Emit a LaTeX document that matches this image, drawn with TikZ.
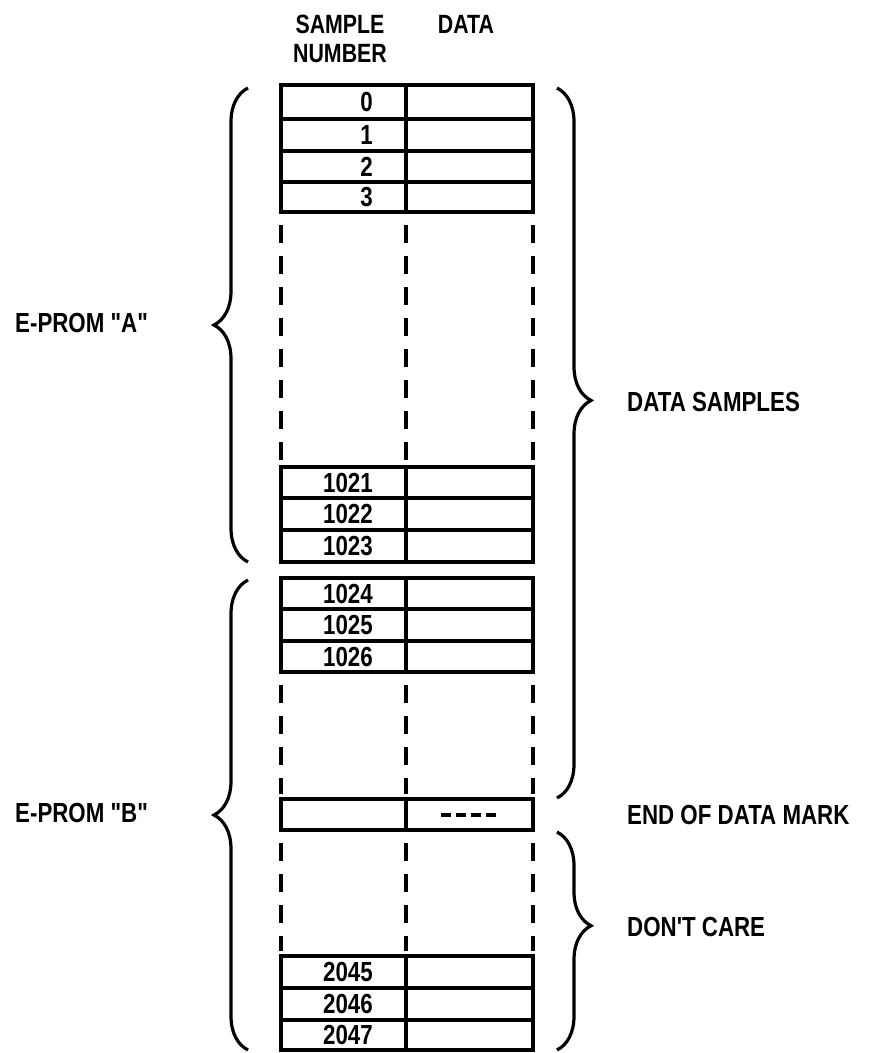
\documentclass[tikz,border=0pt]{standalone}
\usepackage{fontspec}
\usepackage{graphicx}
\setmainfont{Liberation Sans}
\usetikzlibrary{decorations.pathreplacing}
\newcommand{\tallt}[1]{\scalebox{0.97}[1.2]{#1}}
\begin{document}
\begin{tikzpicture}[x=1pt,y=-1pt,
  cell/.style={line width=3.2pt},
  gapline/.style={line width=3.2pt, dash pattern=on 18pt off 13pt},
  num/.style={anchor=east, inner sep=0pt, font=\fontsize{23}{23}\bfseries},
  hdr/.style={inner sep=0pt, font=\fontsize{22}{22}\bfseries},
  lab/.style={anchor=west, inner sep=0pt, font=\fontsize{23}{23}\bfseries},
  brc/.style={line width=3.2pt, decorate, decoration={brace, amplitude=34pt, aspect=#1}}]
\useasboundingbox (0,0) rectangle (880,1053);

% headers
\node[hdr] (hs) at (340,24) {\tallt{SAMPLE}};
\node[hdr] (hn) at (340,54) {\tallt{NUMBER}};
\node[hdr] (hd) at (466,24) {\tallt{DATA}};

% table blocks
\foreach \t/\b in {85/212, 467/562, 578/672, 799/830, 956/1050}{
  \draw[cell] (281,\t) rectangle (533,\b);
  \draw[cell] (406,\t) -- (406,\b);
}
\foreach \y in {119,151,182,498,530,609,641,988,1020}
  \draw[cell] (281,\y) -- (533,\y);

% dashed continuation lines
\foreach \t/\b in {212/467, 672/799, 830/956}
  \foreach \x in {281,406,533}
    \draw[gapline] (\x,\t+13) -- (\x,\b-5);

% end of data mark dashes
\coordinate (ms) at (441,815);
\coordinate (me) at (497,815);
\draw[line width=3.2pt, dash pattern=on 10pt off 5pt] (ms) -- (me);

% sample numbers
\node[num] (n0) at (373,102) {\tallt{0}};
\node[num] (n1) at (373,135) {\tallt{1}};
\node[num] (n2) at (373,166.5) {\tallt{2}};
\node[num] (n3) at (373,197) {\tallt{3}};
\node[num] (n1021) at (373,482.5) {\tallt{1021}};
\node[num] (n1022) at (373,514) {\tallt{1022}};
\node[num] (n1023) at (373,546) {\tallt{1023}};
\node[num] (n1024) at (373,593.5) {\tallt{1024}};
\node[num] (n1025) at (373,625) {\tallt{1025}};
\node[num] (n1026) at (373,656.5) {\tallt{1026}};
\node[num] (n2045) at (373,972) {\tallt{2045}};
\node[num] (n2046) at (373,1004) {\tallt{2046}};
\node[num] (n2047) at (373,1035) {\tallt{2047}};

% braces
\draw[brc=0.5] (248,562) -- (248,88);
\draw[brc=0.5] (248,1050) -- (248,580);
\draw[brc=0.44] (557,88) -- (557,798);
\draw[brc=0.43] (557,832) -- (557,1050);

% labels
\node[lab] (ea) at (15,323) {\tallt{E-PROM \textquotedbl A\textquotedbl}};
\node[lab] (eb) at (15,813) {\tallt{E-PROM \textquotedbl B\textquotedbl}};
\node[lab] (ds) at (627,402) {\tallt{DATA SAMPLES}};
\node[lab] (ed) at (627,815) {\tallt{END OF DATA MARK}};
\node[lab] (dc) at (627,927) {\tallt{DON\textquotesingle T CARE}};
\end{tikzpicture}
\end{document}
